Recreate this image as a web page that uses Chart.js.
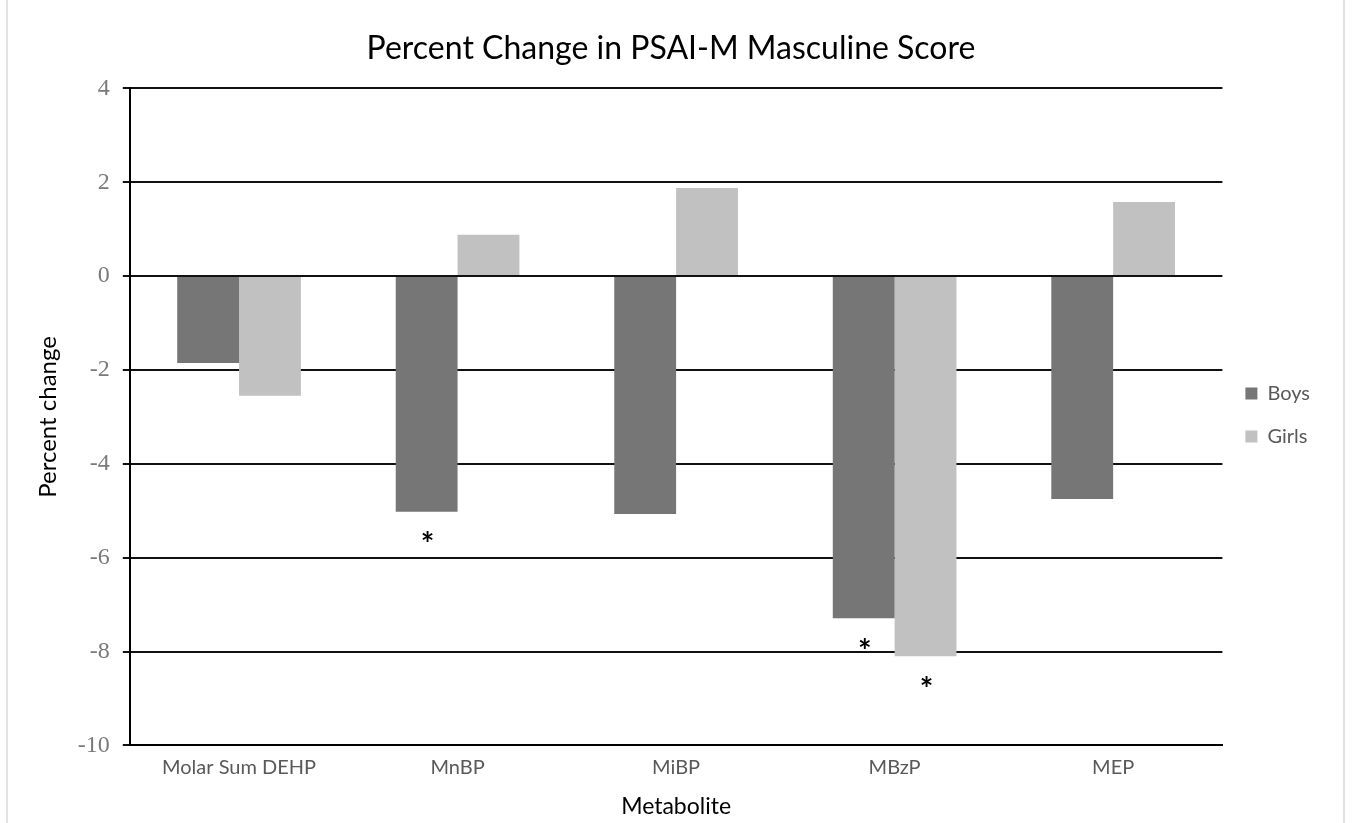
<!DOCTYPE html>
<html>
<head>
<meta charset="utf-8">
<script src="https://cdn.jsdelivr.net/npm/chart.js@4/dist/chart.umd.min.js"></script>
<style>
  html, body { margin: 0; padding: 0; background: #fff; }
  #wrap { position: relative; width: 1353px; height: 823px; }
  #frame { position: absolute; left: 6px; top: 0; width: 1339px; height: 823px;
           border-left: 2px solid #e2e2e2; border-right: 2px solid #e2e2e2; box-sizing: border-box; pointer-events: none; }
</style>
</head>
<body>
<div id="wrap"><canvas id="psaiChart" width="1353" height="823"></canvas><div id="frame"></div></div>
<script>
// 代謝物ごとのデータ
const metabolites = ["Molar Sum DEHP", "MnBP", "MiBP", "MBzP", "MEP"];
const boysChange = [-1.85, -5.02, -5.07, -7.29, -4.75];
const girlsChange = [-2.55, 0.88, 1.88, -8.1, 1.58];
// 有意差 (*) の位置
const boysSignificant = [false, true, false, true, false];
const girlsSignificant = [false, false, false, true, false];
const yTicks = [4, 2, 0, -2, -4, -6, -8, -10];

const sansFont = "Lato, 'Open Sans', sans-serif";
const serifFont = "'Liberation Serif', 'DejaVu Serif', serif";

// 棒の下にアスタリスクを描くプラグイン
const asteriskPlugin = {
    id: "asterisks",
    afterDatasetsDraw(chart) {
        const ctx = chart.ctx;
        const flags = [boysSignificant, girlsSignificant];
        ctx.save();
        ctx.fillStyle = "#000";
        ctx.font = "bold 32px " + sansFont;
        ctx.textAlign = "center";
        ctx.textBaseline = "middle";
        flags.forEach((list, di) => {
            const meta = chart.getDatasetMeta(di);
            list.forEach((sig, i) => {
                if (!sig) return;
                const bar = meta.data[i];
                ctx.fillText("*", bar.x + 1, bar.y + 34);
            });
        });
        ctx.restore();
    },
};

const ctx = document.getElementById("psaiChart").getContext("2d");
new Chart(ctx, {
    type: "bar",
    data: {
        labels: metabolites,
        datasets: [
            {
                label: "Boys",
                data: boysChange,
                backgroundColor: "#767676",
                borderWidth: 0,
            },
            {
                label: "Girls",
                data: girlsChange,
                backgroundColor: "#c1c1c1",
                borderWidth: 0,
            },
        ],
    },
    options: {
        responsive: false,
        animation: false,
        devicePixelRatio: 1,
        layout: {
            padding: { left: 22, right: 33, top: 10, bottom: 3 },
        },
        datasets: {
            bar: {
                categoryPercentage: 0.566,
                barPercentage: 1.0,
            },
        },
        scales: {
            x: {
                grid: {
                    display: false,
                    drawTicks: false,
                },
                border: { color: "#000", width: 2 },
                ticks: {
                    color: "#595959",
                    font: { family: sansFont, size: 20 },
                    padding: 10,
                },
                title: {
                    display: true,
                    text: "Metabolite",
                    color: "#000",
                    font: { family: sansFont, size: 23 },
                    padding: { top: 3, bottom: 0 },
                },
            },
            y: {
                min: -10,
                max: 4,
                afterBuildTicks(axis) {
                    axis.ticks = yTicks.map(v => ({ value: v }));
                },
                grid: {
                    color: "#111",
                    lineWidth: 2,
                    tickLength: 7,
                },
                border: { color: "#000", width: 2 },
                ticks: {
                    color: "#7a7a7a",
                    font: { family: serifFont, size: 24 },
                    padding: 13,
                },
                title: {
                    display: true,
                    text: "Percent change",
                    color: "#000",
                    font: { family: sansFont, size: 24 },
                    padding: { top: 12, bottom: 2 },
                },
            },
        },
        plugins: {
            title: {
                display: true,
                text: "Percent Change in PSAI-M Masculine Score",
                color: "#000",
                font: { family: sansFont, size: 32, weight: "normal" },
                padding: { top: 19, bottom: 21 },
            },
            legend: {
                display: true,
                position: "right",
                labels: {
                    color: "#595959",
                    font: { family: sansFont, size: 20 },
                    boxWidth: 12,
                    boxHeight: 12,
                    padding: 23,
                },
            },
            tooltip: { enabled: false },
        },
    },
    plugins: [asteriskPlugin],
});
</script>
</body>
</html>
